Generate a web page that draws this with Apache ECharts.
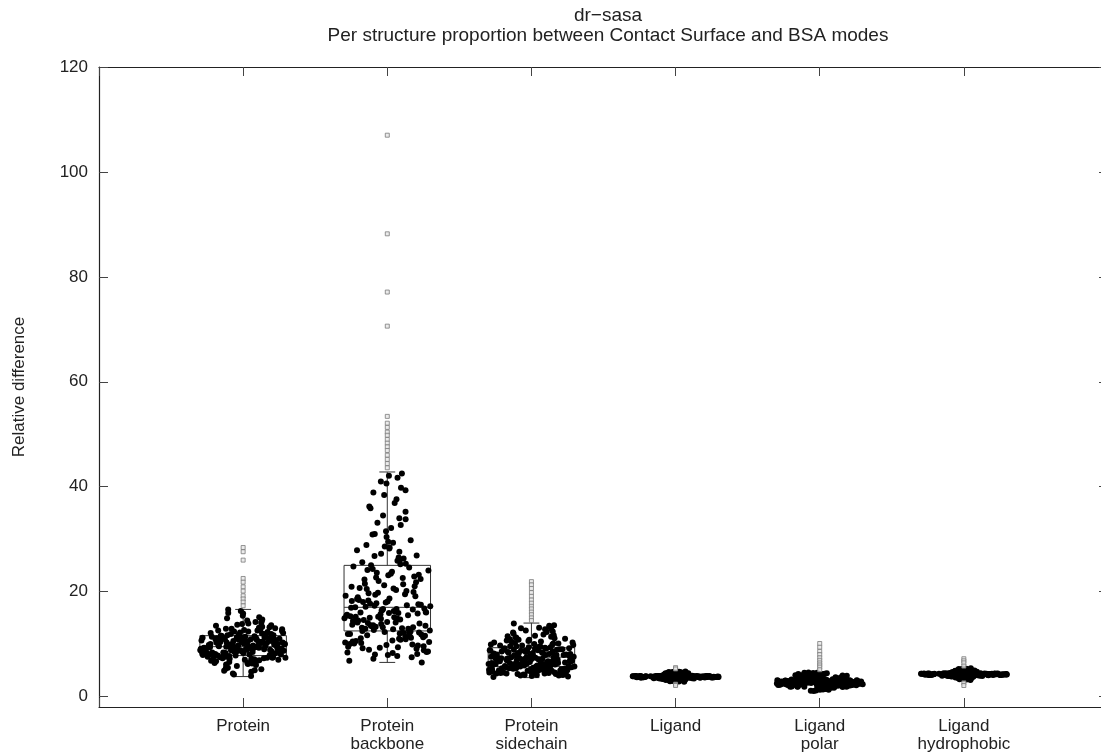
<!DOCTYPE html>
<html>
<head>
<meta charset="utf-8">
<title>dr-sasa relative difference</title>
<script src="https://cdn.jsdelivr.net/npm/echarts@6/dist/echarts.min.js"></script>
<style>
  html, body { margin: 0; padding: 0; background: #fff; }
  #chart { width: 1101px; height: 754px; }
</style>
</head>
<body>
<div id="chart"></div>
<script>
// Groups shown along the x axis (one box per group, placed at x = 1..6)
const categories = ['Protein', 'Protein\nbackbone', 'Protein\nsidechain', 'Ligand', 'Ligand\npolar', 'Ligand\nhydrophobic'];
const yTicks = [0, 20, 40, 60, 80, 100, 120];

// Box statistics per group: whisker low, Q1, median, Q3, whisker high
const boxLow  = [3.8, 6.5, 3.6, 2.79, 1.05, 3.14];
const boxQ1   = [7.8, 12.5, 5.7, 3.62, 2.45, 4.10];
const boxMed  = [9.5, 17.0, 7.5, 3.77, 2.8, 4.25];
const boxQ3   = [11.6, 25.0, 9.3, 3.91, 3.1, 4.39];
const boxHigh = [16.6, 42.8, 14.0, 4.76, 4.58, 5.38];

// Per-structure relative differences inside the whiskers
const proteinPoints = [9.2, 10.4, 8.1, 11.3, 7.6, 12.8, 9.9, 8.7, 6.4, 10.9, 14.2, 9.4, 7.9, 11.0, 8.4, 5.2, 10.1, 12.1, 9.0, 8.8,
  13.6, 7.2, 9.7, 10.6, 11.8, 8.3, 6.9, 9.5, 15.1, 10.2, 8.0, 7.4, 12.4, 9.1, 11.5, 4.4, 10.8, 8.6, 9.8, 13.1,
  7.7, 10.3, 6.2, 11.1, 8.9, 16.3, 9.3, 12.6, 8.2, 10.0, 7.0, 11.4, 9.6, 5.8, 14.7, 8.5, 10.7, 7.5, 12.2, 9.2,
  3.9, 11.7, 8.0, 10.5, 6.7, 13.3, 9.0, 8.4, 11.2, 7.3, 10.1, 15.8, 9.4, 6.0, 12.9, 8.7, 10.9, 7.8, 11.9, 9.7,
  4.9, 10.4, 8.3, 14.0, 9.1, 7.1, 12.0, 10.6, 8.8, 6.5, 11.6, 9.9, 13.8, 8.1, 10.2, 7.6, 12.5, 9.5, 5.5, 11.0,
  8.6, 16.6, 10.8, 7.9, 9.3, 12.7, 6.8, 11.3, 8.9, 10.0, 14.5, 9.6, 7.4, 11.8, 8.2, 4.7, 10.3, 13.0, 9.0, 7.7,
  12.3, 8.5, 10.7, 6.3, 11.5, 9.8, 15.4, 8.0, 10.5, 7.2, 12.1, 9.2, 6.1, 11.1, 8.7, 13.5, 9.4, 10.9, 7.0, 11.4,
  8.4, 5.0, 10.1, 12.8, 9.7, 7.5, 11.7, 8.8, 14.9, 10.4, 6.6, 9.1, 12.4, 8.1, 10.6, 7.8, 11.2, 9.5, 4.2, 13.2,
  8.3, 10.0, 7.3, 11.9, 9.9, 6.9, 12.6, 8.6, 10.8, 15.9, 9.3, 7.6, 11.0, 8.9, 5.6, 10.2, 13.7, 9.0, 7.1, 11.6,
  8.2, 10.5, 6.4, 12.0, 9.6, 14.3, 8.0, 10.3, 7.9, 11.3, 9.2, 6.8, 12.9, 8.5, 10.7, 5.3, 11.5, 9.8, 7.4, 13.9];

const backbonePoints = [14.8, 22.3, 9.7, 31.5, 18.2, 11.4, 26.8, 16.1, 8.3, 20.7, 13.2, 38.4, 15.6, 10.8, 24.1, 17.5, 7.9, 28.9, 12.9, 19.4,
  35.2, 14.1, 9.2, 21.8, 16.7, 11.9, 27.6, 13.6, 8.8, 23.4, 18.9, 41.7, 15.2, 10.3, 25.9, 17.1, 12.2, 30.4, 14.4, 20.1,
  7.2, 33.8, 16.3, 11.1, 22.9, 13.8, 9.5, 26.1, 19.7, 42.5, 15.9, 10.6, 24.6, 17.8, 12.6, 29.3, 14.6, 8.1, 21.2, 16.9,
  36.9, 13.4, 11.6, 23.8, 18.4, 9.9, 27.2, 15.4, 12.0, 20.5, 39.8, 14.2, 10.1, 25.3, 17.3, 8.6, 32.1, 13.1, 19.1, 16.5,
  6.8, 22.6, 15.0, 11.3, 28.2, 18.6, 12.4, 34.5, 14.9, 9.4, 21.5, 17.6, 40.6, 13.7, 10.9, 24.3, 16.0, 12.8, 30.9, 19.9,
  15.7, 8.4, 26.5, 14.0, 11.8, 23.1, 17.0, 37.6, 13.3, 10.4, 20.3, 18.0, 9.1, 28.6, 15.3, 12.1, 25.0, 16.8, 42.1, 14.5,
  7.5, 22.0, 19.2, 11.0, 33.1, 13.9, 9.8, 24.8, 17.4, 12.7, 29.8, 15.1, 10.2, 21.0, 16.4, 35.9, 13.0, 8.9, 26.9, 18.7,
  14.3, 11.5, 23.6, 17.2, 7.7, 31.0, 15.8, 12.3, 20.9, 19.5, 41.0, 13.5, 10.7, 25.6, 16.6, 9.3, 27.9, 14.7, 11.7, 22.4,
  18.1, 38.9, 15.5, 8.0, 24.0, 16.2, 12.5, 32.7, 13.2, 10.0, 21.4, 17.7, 9.6, 28.4, 14.1, 11.2, 19.8, 36.2, 15.9, 12.9,
  23.2, 17.9, 10.5, 26.3, 13.6, 8.5, 20.6, 16.0, 34.0, 14.8, 11.9, 25.2, 18.3, 6.5, 29.5, 15.2, 12.2, 22.7, 39.3, 16.7];

const sidechainPoints = [6.2, 8.4, 4.7, 10.8, 7.1, 5.3, 9.6, 6.8, 4.1, 8.9, 12.3, 5.9, 7.6, 4.4, 11.2, 6.5, 8.1, 5.0, 9.9, 7.3,
  13.6, 5.6, 6.9, 4.9, 8.6, 10.3, 6.0, 7.8, 3.8, 9.1, 5.4, 12.8, 7.0, 4.6, 8.3, 6.4, 11.7, 5.1, 7.5, 9.4,
  4.3, 6.7, 8.8, 5.8, 10.1, 7.2, 4.8, 13.1, 6.1, 8.0, 5.5, 9.7, 7.4, 4.0, 11.0, 6.6, 8.5, 5.2, 10.6, 7.7,
  4.5, 6.3, 9.2, 5.7, 12.0, 7.9, 4.2, 8.7, 6.0, 10.4, 5.3, 7.1, 13.9, 4.9, 8.2, 6.8, 9.5, 5.6, 11.4, 7.5,
  3.7, 6.5, 8.9, 5.0, 10.0, 7.3, 4.6, 12.6, 6.2, 8.4, 5.4, 9.0, 7.6, 4.4, 11.8, 6.9, 8.1, 5.9, 10.7, 7.0,
  4.1, 6.4, 9.3, 5.5, 13.3, 7.8, 4.7, 8.6, 6.1, 9.8, 5.1, 7.2, 11.1, 4.9, 8.0, 6.7, 10.2, 5.8, 7.4, 12.2,
  4.3, 6.3, 8.8, 5.2, 9.6, 7.9, 4.8, 11.5, 6.6, 8.3, 5.6, 7.1, 10.9, 4.0, 8.5, 6.0, 9.1, 5.3, 12.9, 7.6,
  4.5, 6.8, 8.7, 5.7, 10.5, 7.3, 4.2, 9.4, 6.2, 8.1, 5.4, 7.7, 11.6, 4.6, 8.9, 6.5, 9.9, 5.0, 7.5, 13.5,
  3.9, 6.9, 8.4, 5.9, 10.3, 7.0, 4.4, 9.0, 6.3, 8.2, 5.5, 7.8, 12.4, 4.7, 8.6, 6.1, 9.7, 5.1, 7.2, 11.3,
  4.1, 6.6, 8.0, 5.8, 10.8, 7.4, 4.9, 9.2, 6.4, 8.7, 5.2, 7.9, 13.0, 4.3, 8.3, 6.7, 10.1, 5.7, 7.6, 9.5];

const ligandPoints = [3.77, 3.72, 3.84, 3.66, 3.43, 3.80, 3.89, 4.22, 3.70, 3.09, 3.79, 3.61, 3.87, 4.38, 3.74, 3.95, 2.84, 3.68, 4.61, 3.35,
  3.76, 3.83, 3.58, 3.71, 4.29, 3.91, 3.78, 3.30, 3.65, 3.02, 3.86, 3.75, 3.99, 3.49, 3.73, 4.49, 3.81, 4.73, 3.63, 4.08,
  3.78, 3.70, 3.88, 3.60, 3.39, 3.76, 3.85, 4.33, 3.67, 3.15, 3.79, 3.93, 3.56, 4.15, 3.82, 3.74, 2.90, 3.80, 4.56, 3.47,
  3.75, 3.86, 3.64, 3.78, 4.25, 3.69, 3.92, 3.32, 3.76, 3.05, 3.84, 3.59, 3.97, 3.44, 3.77, 4.44, 3.71, 4.67, 3.87, 4.05,
  3.79, 3.68, 3.90, 3.62, 3.54, 3.77, 3.73, 4.31, 3.85, 3.12, 3.76, 3.89, 3.60, 3.37, 3.80, 4.01, 2.79, 3.70, 4.52, 4.11,
  3.74, 3.83, 3.55, 3.77, 4.27, 3.88, 3.66, 3.26, 3.75, 2.98, 3.81, 3.94, 3.63, 3.46, 3.76, 4.58, 3.86, 4.76, 3.71, 4.36,
  3.78, 3.69, 3.91, 3.64, 3.41, 3.74, 3.85, 4.20, 3.79, 3.18, 3.72, 3.98, 3.57, 4.34, 3.80, 3.67, 2.88, 3.89, 4.47, 3.33,
  3.76, 3.84, 3.62, 3.70, 4.12, 3.93, 3.78, 3.50, 3.65, 3.07, 3.82, 3.75, 3.53, 4.26, 3.77, 4.62, 3.87, 4.70, 3.59, 3.28,
  3.79, 3.72, 3.90, 3.68, 3.45, 3.77, 3.85, 4.35, 3.61, 3.14, 3.76, 3.96, 3.58, 4.18, 3.81, 3.69, 2.94, 3.88, 4.54, 3.40,
  3.75, 3.83, 3.63, 3.78, 4.24, 3.91, 3.71, 3.31, 3.79, 3.00, 3.86, 3.66, 4.00, 3.48, 3.76, 4.42, 3.80, 4.65, 3.73, 4.28];

const ligandPolarPoints = [2.80, 2.57, 3.02, 2.39, 3.61, 2.66, 3.21, 1.82, 2.91, 4.08, 2.48, 3.11, 2.24, 2.74, 3.77, 2.62, 1.28, 2.95, 2.06, 4.49,
  2.85, 2.52, 3.07, 2.33, 1.76, 2.71, 3.29, 3.85, 2.44, 1.43, 2.98, 2.65, 3.40, 2.20, 2.79, 4.13, 2.55, 4.39, 3.03, 1.93,
  2.76, 2.41, 3.16, 2.60, 3.69, 2.88, 2.29, 1.63, 3.05, 3.99, 2.50, 3.24, 2.17, 2.70, 1.85, 2.93, 1.09, 3.10, 2.36, 4.27,
  2.83, 2.55, 3.00, 2.43, 3.55, 2.68, 3.33, 1.88, 2.89, 4.19, 2.46, 3.13, 2.27, 2.77, 3.81, 2.63, 1.35, 2.97, 2.13, 4.54,
  2.86, 2.50, 3.06, 2.36, 1.79, 2.73, 3.22, 3.90, 2.47, 1.52, 2.99, 2.67, 3.37, 2.19, 2.82, 4.06, 2.58, 4.31, 3.04, 2.01,
  2.78, 2.40, 3.18, 2.59, 3.64, 2.87, 2.31, 1.69, 3.08, 3.94, 2.53, 3.26, 2.15, 2.72, 1.91, 2.94, 1.05, 3.12, 2.38, 4.51,
  2.81, 2.56, 3.01, 2.44, 3.52, 2.69, 3.31, 1.86, 2.90, 4.16, 2.49, 3.14, 2.26, 2.75, 3.74, 2.64, 1.41, 2.96, 2.11, 4.23,
  2.84, 2.54, 3.09, 2.34, 1.72, 2.74, 3.28, 3.88, 2.45, 1.56, 3.00, 2.66, 3.39, 2.22, 2.80, 4.02, 2.61, 4.42, 3.04, 1.98,
  2.79, 2.42, 3.15, 2.62, 3.71, 2.89, 2.30, 1.66, 3.06, 4.03, 2.51, 3.20, 2.18, 2.71, 1.89, 2.92, 1.16, 3.08, 2.37, 4.58,
  2.85, 2.58, 3.02, 2.41, 3.58, 2.67, 3.35, 1.84, 2.88, 4.11, 2.48, 3.17, 2.28, 2.76, 3.79, 2.64, 1.30, 2.95, 2.14, 4.33];

const ligandHydrophobicPoints = [4.25, 4.20, 4.32, 4.14, 3.91, 4.28, 4.37, 4.70, 4.18, 3.55, 4.27, 4.09, 4.35, 4.86, 4.22, 4.43, 3.22, 4.16, 5.15, 3.82,
  4.24, 4.31, 4.06, 4.19, 4.77, 4.39, 4.26, 3.78, 4.13, 3.46, 4.34, 4.23, 4.47, 3.97, 4.21, 4.99, 4.29, 5.33, 4.11, 4.56,
  4.26, 4.18, 4.36, 4.08, 3.87, 4.24, 4.33, 4.81, 4.15, 3.62, 4.27, 4.41, 4.04, 4.63, 4.30, 4.22, 3.30, 4.28, 5.08, 3.95,
  4.23, 4.34, 4.12, 4.26, 4.73, 4.17, 4.40, 3.80, 4.24, 3.51, 4.32, 4.07, 4.45, 3.92, 4.25, 4.94, 4.19, 5.24, 4.35, 4.53,
  4.27, 4.16, 4.38, 4.10, 4.02, 4.25, 4.21, 4.79, 4.33, 3.59, 4.24, 4.37, 4.08, 3.85, 4.28, 4.49, 3.14, 4.18, 5.02, 4.59,
  4.22, 4.31, 4.03, 4.25, 4.75, 4.36, 4.14, 3.74, 4.23, 3.42, 4.29, 4.42, 4.11, 3.94, 4.24, 5.11, 4.34, 5.38, 4.19, 4.84,
  4.26, 4.17, 4.39, 4.12, 3.89, 4.22, 4.33, 4.68, 4.27, 3.66, 4.20, 4.46, 4.05, 4.82, 4.28, 4.15, 3.26, 4.37, 4.97, 3.81,
  4.24, 4.32, 4.10, 4.18, 4.60, 4.41, 4.26, 3.98, 4.13, 3.53, 4.30, 4.23, 4.01, 4.74, 4.25, 5.18, 4.35, 5.29, 4.07, 3.76,
  4.27, 4.20, 4.38, 4.16, 3.93, 4.25, 4.33, 4.83, 4.09, 3.60, 4.24, 4.44, 4.06, 4.66, 4.29, 4.17, 3.35, 4.36, 5.05, 3.88,
  4.23, 4.31, 4.11, 4.26, 4.72, 4.39, 4.19, 3.79, 4.27, 3.49, 4.34, 4.14, 4.48, 3.96, 4.24, 4.90, 4.28, 5.21, 4.21, 4.76];

// Values beyond the whiskers
const proteinOutliers = [28.4, 27.6, 26.0, 22.5, 21.8, 20.9, 20.1, 19.2, 18.6, 18.0, 17.3];
const backboneOutliers = [107.0, 88.2, 77.1, 70.6, 53.4, 52.1, 51.3, 50.4, 49.8, 49.0, 48.3, 47.6, 46.9, 46.0, 45.2, 44.4, 43.6];
const sidechainOutliers = [21.9, 21.3, 20.6, 19.8, 19.1, 18.4, 17.8, 17.2, 16.7, 16.1, 15.6, 15.0, 14.5];
const ligandOutliers = [5.5, 5.25, 2.35, 2.1];
const ligandPolarOutliers = [10.1, 9.4, 8.6, 8.0, 7.4, 6.9, 6.4, 6.0, 5.6, 5.1];
const ligandHydrophobicOutliers = [7.2, 6.8, 6.4, 5.8, 2.6, 2.1];

const groupPoints = [proteinPoints, backbonePoints, sidechainPoints, ligandPoints, ligandPolarPoints, ligandHydrophobicPoints];
const groupOutliers = [proteinOutliers, backboneOutliers, sidechainOutliers, ligandOutliers, ligandPolarOutliers, ligandHydrophobicOutliers];

// Layout constants (in x-axis units, one group per unit)
const BOX_HALF = 0.3;
const CAP_HALF = 0.055;
const SPREAD_HALF = 0.3;
const GOLDEN = 0.6180339887;

// Spread the points of one group sideways. The local density along y
// (k nearest neighbours), relative to the group's dense core, sets how
// wide the cloud gets at that height; a golden-ratio sequence then
// places the points across that width.
function spreadGroup(values, center) {
  const items = values.map((v, i) => ({ v, i })).sort((a, b) => a.v - b.v);
  const n = items.length;
  const k = 10;
  const dens = items.map((p, r) => {
    const lo = Math.max(0, r - k);
    const hi = Math.min(n - 1, r + k);
    const span = Math.max(items[hi].v - items[lo].v, 1e-3);
    return (hi - lo) / span;
  });
  const sortedDens = dens.slice().sort((a, b) => a - b);
  const core = sortedDens[Math.floor(n * 0.9)];
  return items.map((p, r) => {
    const half = SPREAD_HALF * Math.min(1, 2.2 * Math.pow(dens[r] / core, 0.85));
    const u = 2 * (((p.i + 1) * GOLDEN) % 1) - 1;
    return [center + half * u, p.v];
  });
}

const pointData = [];
groupPoints.forEach((vals, g) => {
  spreadGroup(vals, g + 1).forEach(d => pointData.push(d));
});

const outlierData = [];
groupOutliers.forEach((vals, g) => {
  vals.forEach(v => outlierData.push([g + 1, v]));
});

const boxData = categories.map((c, i) => [i + 1, boxLow[i], boxQ1[i], boxMed[i], boxQ3[i], boxHigh[i]]);

function renderBox(params, api) {
  const x = api.value(0);
  const yOf = v => api.coord([x, v])[1];
  const xOf = dx => api.coord([x + dx, 0])[0];
  const low = yOf(api.value(1)), q1 = yOf(api.value(2)), med = yOf(api.value(3));
  const q3 = yOf(api.value(4)), high = yOf(api.value(5));
  const left = xOf(-BOX_HALF), right = xOf(BOX_HALF), mid = xOf(0);
  const capL = xOf(-CAP_HALF), capR = xOf(CAP_HALF);
  const line = { stroke: '#333', lineWidth: 1 };
  return {
    type: 'group',
    children: [
      { type: 'rect', shape: { x: left, y: q3, width: right - left, height: q1 - q3 }, style: { stroke: '#333', lineWidth: 1, fill: 'rgba(0,0,0,0)' } },
      { type: 'line', shape: { x1: left, y1: med, x2: right, y2: med }, style: line },
      { type: 'line', shape: { x1: mid, y1: q3, x2: mid, y2: high }, style: line },
      { type: 'line', shape: { x1: mid, y1: q1, x2: mid, y2: low }, style: line },
      { type: 'line', shape: { x1: capL, y1: high, x2: capR, y2: high }, style: line },
      { type: 'line', shape: { x1: capL, y1: low, x2: capR, y2: low }, style: line }
    ]
  };
}

const FONT = 'Liberation Sans, Arial, Helvetica, sans-serif';
const INK = '#222';

const frameLine = { show: true, onZero: false, lineStyle: { color: INK, width: 1.2 } };
const frameTick = { show: true, inside: true, length: 9, lineStyle: { color: '#444', width: 1 } };

const chart = echarts.init(document.getElementById('chart'), null, { renderer: 'canvas' });
chart.setOption({
  animation: false,
  backgroundColor: '#fff',
  title: {
    text: 'dr\u2212sasa\nPer structure proportion between Contact Surface and BSA modes',
    left: 603,
    textAlign: 'center',
    top: 1,
    textStyle: { fontFamily: FONT, fontSize: 19, fontWeight: 'normal', color: INK, lineHeight: 20 }
  },
  grid: { left: 99, right: -7, top: 67, bottom: 47, outerBoundsMode: 'none', containLabel: false },
  xAxis: [
    {
      type: 'value', min: 0, max: 7, interval: 1,
      axisLine: frameLine, axisTick: frameTick, splitLine: { show: false },
      axisLabel: {
        fontFamily: FONT, fontSize: 17, color: INK, margin: 10, lineHeight: 18,
        formatter: v => (v >= 1 && v <= categories.length) ? categories[v - 1] : ''
      }
    },
    {
      type: 'value', position: 'top', min: 0, max: 7, interval: 1,
      axisLine: frameLine, axisTick: frameTick, splitLine: { show: false },
      axisLabel: { show: false }
    }
  ],
  yAxis: [
    {
      type: 'value', min: -2, max: 120,
      name: 'Relative difference', nameLocation: 'middle', nameRotate: 90, nameGap: 71,
      nameTextStyle: { fontFamily: FONT, fontSize: 17, color: INK },
      axisLine: frameLine,
      axisTick: Object.assign({ customValues: yTicks }, frameTick),
      splitLine: { show: false },
      axisLabel: { customValues: yTicks, fontFamily: FONT, fontSize: 17, color: INK, margin: 11 }
    },
    {
      type: 'value', position: 'right', min: -2, max: 120,
      axisLine: frameLine,
      axisTick: Object.assign({ customValues: yTicks }, frameTick),
      splitLine: { show: false },
      axisLabel: { show: false }
    }
  ],
  series: [
    {
      type: 'custom', name: 'box', renderItem: renderBox, data: boxData,
      encode: { x: 0, y: [1, 2, 3, 4, 5] }, z: 2, silent: true
    },
    {
      type: 'scatter', name: 'structures', data: pointData,
      symbol: 'circle', symbolSize: 6,
      itemStyle: { color: '#000', opacity: 1 }, z: 3, silent: true
    },
    {
      type: 'scatter', name: 'outliers', data: outlierData,
      symbol: 'rect', symbolSize: 4,
      itemStyle: { color: '#e6e6e6', borderColor: '#7a7a7a', borderWidth: 1 }, z: 4, silent: true
    }
  ]
});
</script>
</body>
</html>
